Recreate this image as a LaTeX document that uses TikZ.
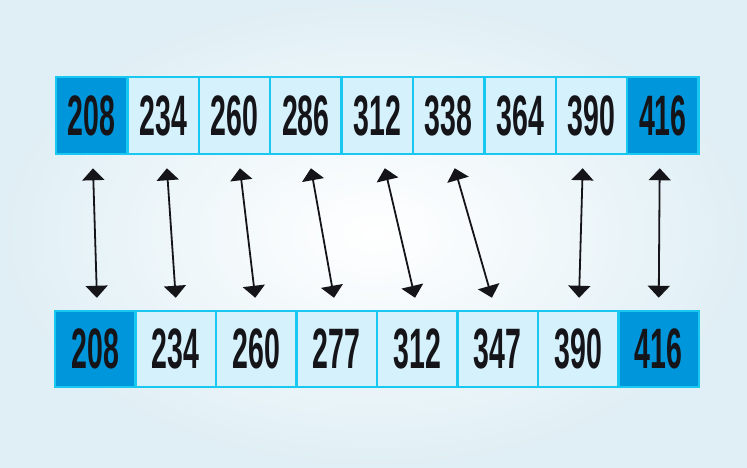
\documentclass[tikz,border=0pt]{standalone}
\usepackage{fontspec}
\setmainfont{Liberation Sans}[FakeStretch=0.5]
\usepackage{xcolor}
\usetikzlibrary{positioning,arrows.meta}

\definecolor{deep}{RGB}{0,150,219}
\definecolor{pale}{RGB}{213,241,251}
\definecolor{rim}{RGB}{24,200,240}
\definecolor{ink}{RGB}{20,20,25}
\definecolor{haze}{RGB}{224,239,245}

\begin{document}
\begin{tikzpicture}[x=1pt,y=-1pt,
    cell/.style={on grid,draw=rim,line width=2.5pt,fill=pale,inner sep=0pt,
      text=ink,font=\fontsize{57}{57}\selectfont\bfseries},
    up/.style={cell,minimum width=71.4pt,minimum height=77pt},
    down/.style={cell,minimum width=80.5pt,minimum height=76pt},
    hot/.style={fill=deep},
    link/.style={{Triangle[width=22pt,length=12pt]}-{Triangle[width=22pt,length=12pt]},line width=1.8pt,ink}]
  \useasboundingbox (0,0) rectangle (747,467);
  \shade[inner color=white,outer color=haze] (0,0) rectangle (747,467);
  % upper row
  \node[up,hot] (t1) at (91.7,115.5) {208};
  \node[up,right=71.4pt of t1] (t2) {234};
  \node[up,right=71.4pt of t2] (t3) {260};
  \node[up,right=71.4pt of t3] (t4) {286};
  \node[up,right=71.4pt of t4] (t5) {312};
  \node[up,right=71.4pt of t5] (t6) {338};
  \node[up,right=71.4pt of t6] (t7) {364};
  \node[up,right=71.4pt of t7] (t8) {390};
  \node[up,hot,right=71.4pt of t8] (t9) {416};
  % lower row
  \node[down,hot] (b1) at (95.25,349) {208};
  \node[down,right=80.5pt of b1] (b2) {234};
  \node[down,right=80.5pt of b2] (b3) {260};
  \node[down,right=80.5pt of b3] (b4) {277};
  \node[down,right=80.5pt of b4] (b5) {312};
  \node[down,right=80.5pt of b5] (b6) {347};
  \node[down,right=80.5pt of b6] (b7) {390};
  \node[down,hot,right=80.5pt of b7] (b8) {416};
  \draw[link] ([xshift=1.3pt,yshift=-13pt]t1.south) -- ([xshift=1.7pt,yshift=12pt]b1.north);
  \draw[link] ([xshift=3.8pt,yshift=-13pt]t2.south) -- ([yshift=12pt]b2.north);
  \draw[link] ([xshift=5.4pt,yshift=-13pt]t3.south) -- ([xshift=-1pt,yshift=12pt]b3.north);
  \draw[link] ([xshift=5pt,yshift=-13pt]t4.south) -- ([xshift=-2.7pt,yshift=12pt]b4.north);
  \draw[link] ([xshift=7.5pt,yshift=-13pt]t5.south) -- ([xshift=-2.2pt,yshift=12pt]b5.north);
  \draw[link] ([xshift=6pt,yshift=-13pt]t6.south) -- ([xshift=-5.8pt,yshift=12pt]b6.north);
  \draw[link] ([xshift=-8.8pt,yshift=-13pt]t8.south) -- ([xshift=0.8pt,yshift=12pt]b7.north);
  \draw[link] ([xshift=-3.2pt,yshift=-13pt]t9.south) -- ([yshift=12pt]b8.north);
\end{tikzpicture}
\end{document}
